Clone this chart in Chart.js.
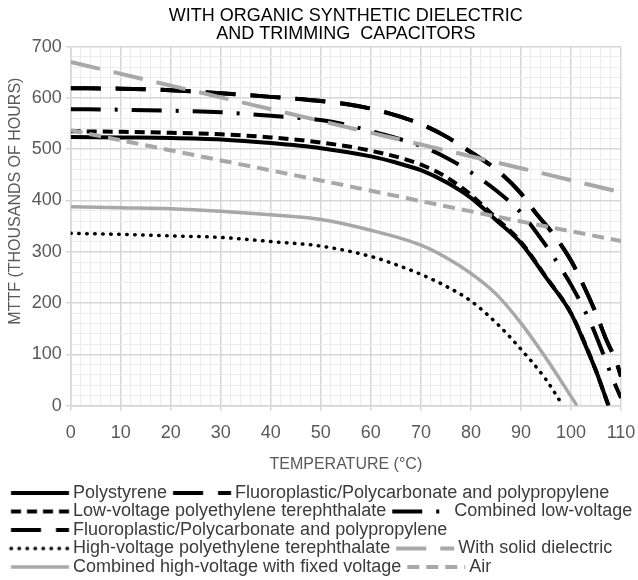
<!DOCTYPE html>
<html>
<head>
<meta charset="utf-8">
<script src="https://cdn.jsdelivr.net/npm/chart.js@4/dist/chart.umd.min.js"></script>
<style>
  html, body { margin: 0; padding: 0; background: #fff; }
  canvas { display: block; }
</style>
</head>
<body>
<canvas id="chart" width="638" height="580"></canvas>
<script>
const FONT = "'Liberation Sans', Arial, sans-serif";
const GRID_MAJOR = '#d6d6d6';
const GRID_MINOR = '#ececec';
const AXIS_TEXT = '#595959';

const titleLines = ['WITH ORGANIC SYNTHETIC DIELECTRIC', 'AND TRIMMING  CAPACITORS'];
const xTitle = 'TEMPERATURE (°C)';
const yTitle = 'MTTF (THOUSANDS OF HOURS)';

const seriesNames = [
  'Polystyrene',
  'Fluoroplastic/Polycarbonate and polypropylene',
  'Low-voltage polyethylene terephthalate',
  'Combined low-voltage',
  'Fluoroplastic/Polycarbonate and polypropylene',
  'High-voltage polyethylene terephthalate',
  'With solid dielectric',
  'Combined high-voltage with fixed voltage',
  'Air',
];

// [temperature, MTTF]
const polystyrene = [[0, 524], [10, 523], [20, 522], [30, 519], [40, 512], [50, 502], [60, 486], [65, 474], [70, 459], [75, 436], [80, 405], [85, 362], [90, 317], [95, 250], [100, 180], [103, 115], [105, 68], [107.5, 0]];
const fluoroplastic = [[0, 619], [10, 618], [20, 615], [30, 609], [40, 602], [50, 594], [55, 588], [60, 579], [65, 566], [70, 549], [75, 525], [80, 494], [85, 461], [90, 414], [93, 375], [95, 352], [97, 328], [100, 283], [102, 245], [105, 180], [107, 130], [109, 87], [110, 57]];
const lowVoltagePet = [[0, 535], [10, 534], [20, 532], [30, 529], [40, 523], [50, 513], [60, 497], [70, 470], [75, 446], [80, 411], [85, 366], [90, 319], [95, 251], [100, 180], [105, 68], [107.5, 0]];
const combinedLowVoltage = [[0, 578], [10, 577], [20, 575], [30, 572], [40, 565], [50, 557], [55, 548], [60, 535], [65, 522], [70, 506], [75, 484], [80, 455], [85, 420], [90, 376], [95, 312], [98, 268], [100, 236], [104, 160], [106, 112], [108.5, 49], [110, 15]];
const fluoroplastic2 = [[0, 619], [10, 618], [20, 615], [30, 609], [40, 602], [50, 594], [55, 588], [60, 579], [65, 566], [70, 549], [75, 525], [80, 494], [85, 461], [90, 414], [93, 375], [95, 352], [97, 328], [100, 283], [102, 245], [105, 180], [107, 130], [109, 87], [110, 57]];
const highVoltagePet = [[0, 336], [10, 334], [20, 331], [30, 328], [40, 320], [50, 311], [60, 291], [65, 275], [70, 256], [75, 233], [80, 204], [85, 162], [90, 110], [95, 51], [98.4, 0]];
const solidDielectric = [[0, 670], [20, 624], [50, 555], [90, 463], [110, 416]];
const combinedHighVoltage = [[0, 388], [10, 386], [20, 384], [30, 379], [40, 372], [50, 363], [60, 342], [70, 313], [75, 289], [80, 258], [85, 218], [90, 161], [95, 93], [101.2, 0]];
const air = [[0, 537], [26, 486], [49, 441], [87, 365], [110, 321]];

const seriesData = [polystyrene, fluoroplastic, lowVoltagePet, combinedLowVoltage, fluoroplastic2, highVoltagePet, solidDielectric, combinedHighVoltage, air];

const lineStyles = [
  { color: '#000', width: 4, dash: [] },
  { color: '#000', width: 4, dash: [30, 15] },
  { color: '#000', width: 4, dash: [10, 6] },
  { color: '#000', width: 4, dash: [30, 14, 3, 14] },
  { color: '#000', width: 4, dash: [30, 15] },
  { color: '#000', width: 3.5, dash: [0.5, 7.5], cap: 'round' },
  { color: '#a8a8a8', width: 4, dash: [30, 14], order: -1 },
  { color: '#a8a8a8', width: 3.5, dash: [], order: -1 },
  { color: '#a8a8a8', width: 4, dash: [12, 7], order: -1 },
];

// little line samples for the legend (image is centred on the legend box)
const SAMPLE_BOX = 58.5;
const makeSample = s => {
  const c = document.createElement('canvas');
  c.width = 72;
  c.height = 8;
  const g = c.getContext('2d');
  g.strokeStyle = s.color;
  g.lineWidth = s.width;
  g.lineCap = s.cap || 'butt';
  g.setLineDash(s.dash);
  g.beginPath();
  g.moveTo(12.25, 4);
  g.lineTo(70.25, 4);
  g.stroke();
  return c;
};
const samples = lineStyles.map(makeSample);

const datasets = seriesData.map((points, i) => ({
  label: seriesNames[i],
  data: points.map(([x, y]) => ({ x, y })),
  borderColor: lineStyles[i].color,
  borderWidth: lineStyles[i].width,
  borderDash: lineStyles[i].dash,
  borderCapStyle: lineStyles[i].cap || 'butt',
  order: lineStyles[i].order || 0,
  fill: false,
  pointRadius: 0,
  cubicInterpolationMode: 'monotone',
}));

const isMajor = (value, step) => Math.abs(value % step) < 1e-6;

// the y title sits a little above the middle of the axis in the original
const yTitlePlugin = {
  id: 'yTitle',
  afterDraw(chart) {
    const { ctx, scales } = chart;
    const y = scales.y;
    ctx.save();
    ctx.translate(y.left + 10.6, (y.top + y.bottom) / 2 - 25);
    ctx.rotate(-Math.PI / 2);
    ctx.font = `16px ${FONT}`;
    ctx.fillStyle = AXIS_TEXT;
    ctx.textAlign = 'center';
    ctx.textBaseline = 'middle';
    ctx.fillText(yTitle, 0, 0);
    ctx.restore();
  },
};

new Chart(document.getElementById('chart'), {
  type: 'line',
  data: { datasets },
  plugins: [yTitlePlugin],
  options: {
    responsive: false,
    animation: false,
    events: [],
    devicePixelRatio: 1,
    layout: { padding: { left: 5, right: 0, top: 0, bottom: -6 } },
    plugins: {
      tooltip: { enabled: false },
      title: {
        display: true,
        text: titleLines,
        fullSize: false,
        color: '#000',
        font: { family: FONT, size: 18, weight: 'normal', lineHeight: 1 },
        padding: { top: 7, bottom: 3.6 },
      },
      legend: {
        position: 'bottom',
        align: 'start',
        labels: {
          usePointStyle: true,
          pointStyleWidth: SAMPLE_BOX,
          padding: 0.5,
          color: '#3b3b3b',
          font: { family: FONT, size: 18 },
          sort: (a, b) => a.datasetIndex - b.datasetIndex,
          generateLabels(chart) {
            const items = Chart.defaults.plugins.legend.labels.generateLabels(chart);
            items.forEach(item => {
              item.pointStyle = samples[item.datasetIndex];
            });
            return items;
          },
        },
      },
    },
    scales: {
      x: {
        type: 'linear',
        min: 0,
        max: 110,
        afterFit(scale) {
          scale.paddingRight = 17;
        },
        ticks: {
          stepSize: 2,
          autoSkip: false,
          maxRotation: 0,
          minRotation: 0,
          padding: 11.5,
          color: AXIS_TEXT,
          font: { family: FONT, size: 18 },
          callback: v => (isMajor(v, 10) ? v : ''),
        },
        grid: {
          color: c => (isMajor(c.tick.value, 10) ? GRID_MAJOR : GRID_MINOR),
          lineWidth: c => (isMajor(c.tick.value, 10) ? 1.5 : 1),
          tickColor: c => (isMajor(c.tick.value, 10) ? GRID_MAJOR : 'rgba(0,0,0,0)'),
          tickLength: 5,
        },
        border: { color: GRID_MAJOR, width: 1.5 },
        title: {
          display: true,
          text: xTitle,
          color: AXIS_TEXT,
          font: { family: FONT, size: 16 },
          padding: { top: 0, bottom: 9 },
        },
      },
      y: {
        type: 'linear',
        min: 0,
        max: 700,
        afterFit(scale) {
          scale.width = 65.7;
        },
        ticks: {
          stepSize: 20,
          autoSkip: false,
          padding: 4,
          color: AXIS_TEXT,
          font: { family: FONT, size: 18 },
          callback: v => (isMajor(v, 100) ? v : ''),
        },
        grid: {
          color: c => (isMajor(c.tick.value, 100) ? GRID_MAJOR : GRID_MINOR),
          lineWidth: c => (isMajor(c.tick.value, 100) ? 1.5 : 1),
          tickColor: c => (isMajor(c.tick.value, 100) ? GRID_MAJOR : 'rgba(0,0,0,0)'),
          tickLength: 5,
        },
        border: { color: GRID_MAJOR, width: 1.5 },
        title: { display: false },
      },
    },
  },
});
</script>
</body>
</html>
